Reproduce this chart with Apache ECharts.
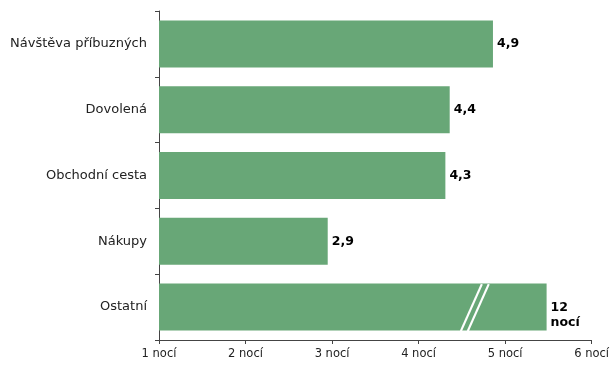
<!DOCTYPE html>
<html><head><meta charset="utf-8">
<script src="https://cdn.jsdelivr.net/npm/echarts@6/dist/echarts.min.js"></script>
<style>html,body{margin:0;padding:0;background:#fff}#c{width:612px;height:365px}</style>
</head><body><div id="c"></div>
<script>
const categories = ['Návštěva příbuzných', 'Dovolená', 'Obchodní cesta', 'Nákupy', 'Ostatní'];
const values = [4.86, 4.36, 4.31, 2.95, 5.48];
const valueLabels = ['4,9', '4,4', '4,3', '2,9', '12\nnocí'];
const tickSuffix = ' nocí';
const breakCategory = 'Ostatní';
const breakValues = [4.61, 4.69];

const chart = echarts.init(document.getElementById('c'), null, {renderer: 'canvas'});
const font = 'DejaVu Sans, Verdana, sans-serif';
const idx = categories.indexOf(breakCategory);
chart.setOption({
  animation: false,
  grid: {left: 159, right: 19, top: 11, bottom: 25, containLabel: false},
  xAxis: {
    type: 'value', min: 1, max: 6, interval: 1,
    axisLine: {show: true, lineStyle: {color: '#444', width: 1}},
    axisTick: {show: true, length: 4, lineStyle: {color: '#444'}},
    splitLine: {show: false},
    axisLabel: {formatter: v => v + tickSuffix, color: '#222', fontFamily: font, fontSize: 11.5, margin: 8}
  },
  yAxis: {
    type: 'category', data: categories, inverse: true,
    axisLine: {show: true, lineStyle: {color: '#444', width: 1}},
    axisTick: {show: true, length: 4, alignWithLabel: false, lineStyle: {color: '#444'}},
    axisLabel: {color: '#222', fontFamily: font, fontSize: 13, margin: 12}
  },
  series: [{
    type: 'bar',
    data: values.map((v, i) => i === idx ? {value: v, label: {offset: [0, 8]}} : v),
    barCategoryGap: '28.6%',
    itemStyle: {color: '#68a777'},
    label: {
      show: true, position: 'right', distance: 4,
      formatter: p => valueLabels[p.dataIndex],
      color: '#000', fontWeight: 'bold', fontFamily: font, fontSize: 12.5, lineHeight: 15, align: 'left'
    }
  }]
});
// break marks on the shortened bar
const center = chart.convertToPixel({gridIndex: 0}, [0, categories[idx]]);
const topEdge = center[1] - 23, botEdge = center[1] + 24;
const slant = 10.5;
const graphics = breakValues.map(v => {
  const x = chart.convertToPixel({gridIndex: 0}, [v, categories[idx]])[0];
  return {type: 'line', shape: {x1: x - slant, y1: botEdge, x2: x + slant, y2: topEdge},
          style: {stroke: '#fff', lineWidth: 2.2}, z: 100};
});
chart.setOption({graphic: graphics});
</script></body></html>
